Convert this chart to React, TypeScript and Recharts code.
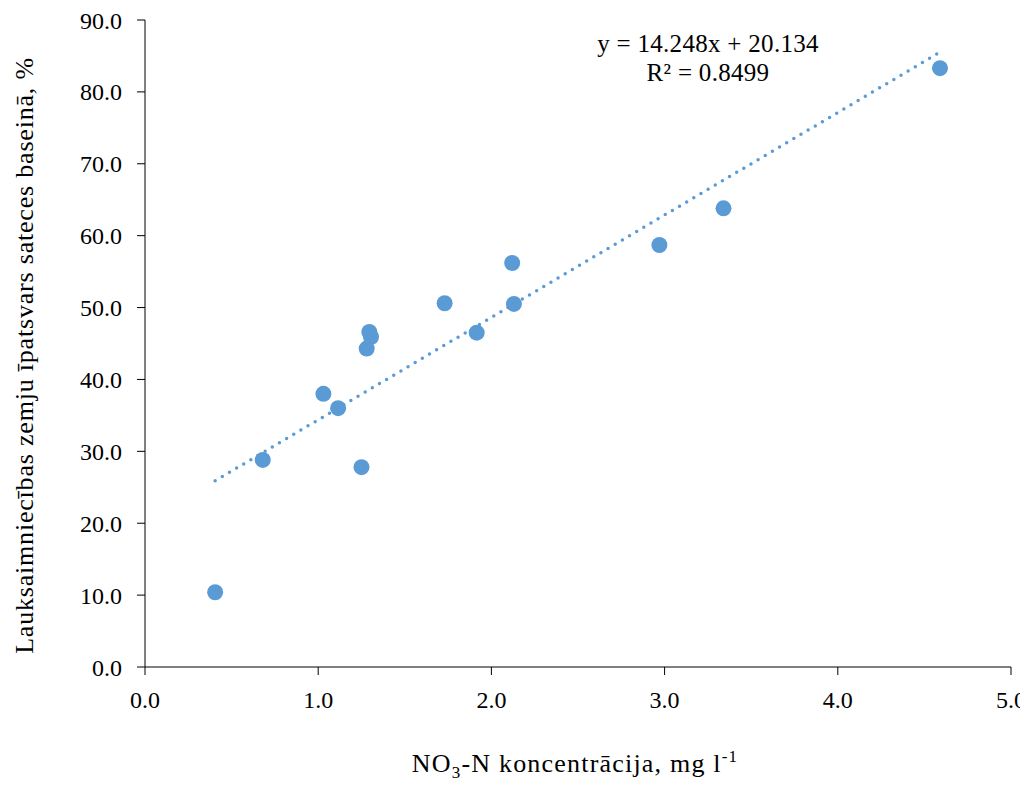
import React from "react";
import { ScatterChart, Scatter, XAxis, YAxis, ReferenceLine, Label } from "recharts";

const concentrations = [0.405, 0.68, 1.03, 1.115, 1.25, 1.28, 1.295, 1.305, 1.73, 1.915, 2.12, 2.13, 2.97, 3.34, 4.59];
const shares = [10.4, 28.8, 38.0, 36.0, 27.8, 44.3, 46.6, 45.9, 50.6, 46.5, 56.2, 50.5, 58.7, 63.8, 83.3];
const xTicks = [0, 1, 2, 3, 4, 5];
const yTicks = [0, 10, 20, 30, 40, 50, 60, 70, 80, 90];
const slope = 14.248;
const intercept = 20.134;
const rSquared = 0.8499;

const BLUE = "#5B9BD5";
const FONT = "'Liberation Serif', 'Times New Roman', serif";

const data = concentrations.map((x, i) => ({ x, y: shares[i] }));
const xMin = Math.min(...concentrations);
const xMax = Math.max(...concentrations);
const trend = [
  { x: xMin, y: slope * xMin + intercept },
  { x: xMax, y: slope * xMax + intercept },
];

const Dot = (props: any) => <circle cx={props.cx} cy={props.cy} r={8} fill={BLUE} />;

const XTitle = (props: any) => {
  const vb = props.viewBox || { x: 0, y: 0, width: 0, height: 0 };
  const cx = vb.x + vb.width / 2 - 3;
  const y = vb.y + 105;
  return (
    <text x={cx} y={y} textAnchor="middle" fontFamily={FONT} fontSize={26} letterSpacing={1.2} fill="#000">
      <tspan>NO</tspan>
      <tspan fontSize={17} dy={6}>3</tspan>
      <tspan dy={-6}>-N koncentrācija, mg l</tspan>
      <tspan fontSize={17} dy={-10}>-1</tspan>
    </text>
  );
};

const YTitle = (props: any) => {
  const vb = props.viewBox || { x: 0, y: 0, width: 0, height: 0 };
  const cx = 16;
  const cy = vb.y + vb.height / 2 + 12;
  return (
    <g>
      <text
        x={cx}
        y={cy}
        transform={`rotate(-90, ${cx}, ${cy})`}
        textAnchor="middle"
        dominantBaseline="central"
        fontFamily={FONT}
        fontSize={26}
        letterSpacing={0.8}
        fill="#000"
      >
        Lauksaimniecības zemju īpatsvars sateces baseinā, %
      </text>
      <text x={700} y={44} textAnchor="middle" fontFamily={FONT} fontSize={25} letterSpacing={0.3} fill="#000">
        {`y = ${slope.toFixed(3)}x + ${intercept.toFixed(3)}`}
      </text>
      <text x={700} y={73} textAnchor="middle" fontFamily={FONT} fontSize={25} letterSpacing={0.3} fill="#000">
        {`R² = ${rSquared}`}
      </text>
    </g>
  );
};

export default function App() {
  return (
    <ScatterChart width={1020} height={777} margin={{ top: 12, right: 17, left: 0, bottom: 7 }}>
      <XAxis
        type="number"
        dataKey="x"
        domain={[0, 5]}
        ticks={xTicks}
        tickFormatter={(v: number) => v.toFixed(1)}
        height={111}
        axisLine={{ stroke: "#000", strokeWidth: 1 }}
        tickLine={{ stroke: "#000", strokeWidth: 1 }}
        tickSize={8}
        tickMargin={16}
        tick={{ fontFamily: FONT, fontSize: 24, fill: "#000" }}
        interval={0}
      >
        <Label content={<XTitle />} />
      </XAxis>
      <YAxis
        type="number"
        dataKey="y"
        domain={[0, 90]}
        ticks={yTicks}
        tickFormatter={(v: number) => v.toFixed(1)}
        width={137}
        axisLine={{ stroke: "#000", strokeWidth: 1 }}
        tickLine={{ stroke: "#000", strokeWidth: 1 }}
        tickSize={8}
        tickMargin={15}
        tick={{ fontFamily: FONT, fontSize: 24, fill: "#000" }}
        interval={0}
      >
        <Label content={<YTitle />} />
      </YAxis>
      <ReferenceLine
        segment={trend}
        stroke={BLUE}
        strokeWidth={3.5}
        strokeDasharray="0 8.3"
        strokeLinecap="round"
        ifOverflow="visible"
      />
      <Scatter data={data} fill={BLUE} shape={<Dot />} isAnimationActive={false} />
    </ScatterChart>
  );
}
